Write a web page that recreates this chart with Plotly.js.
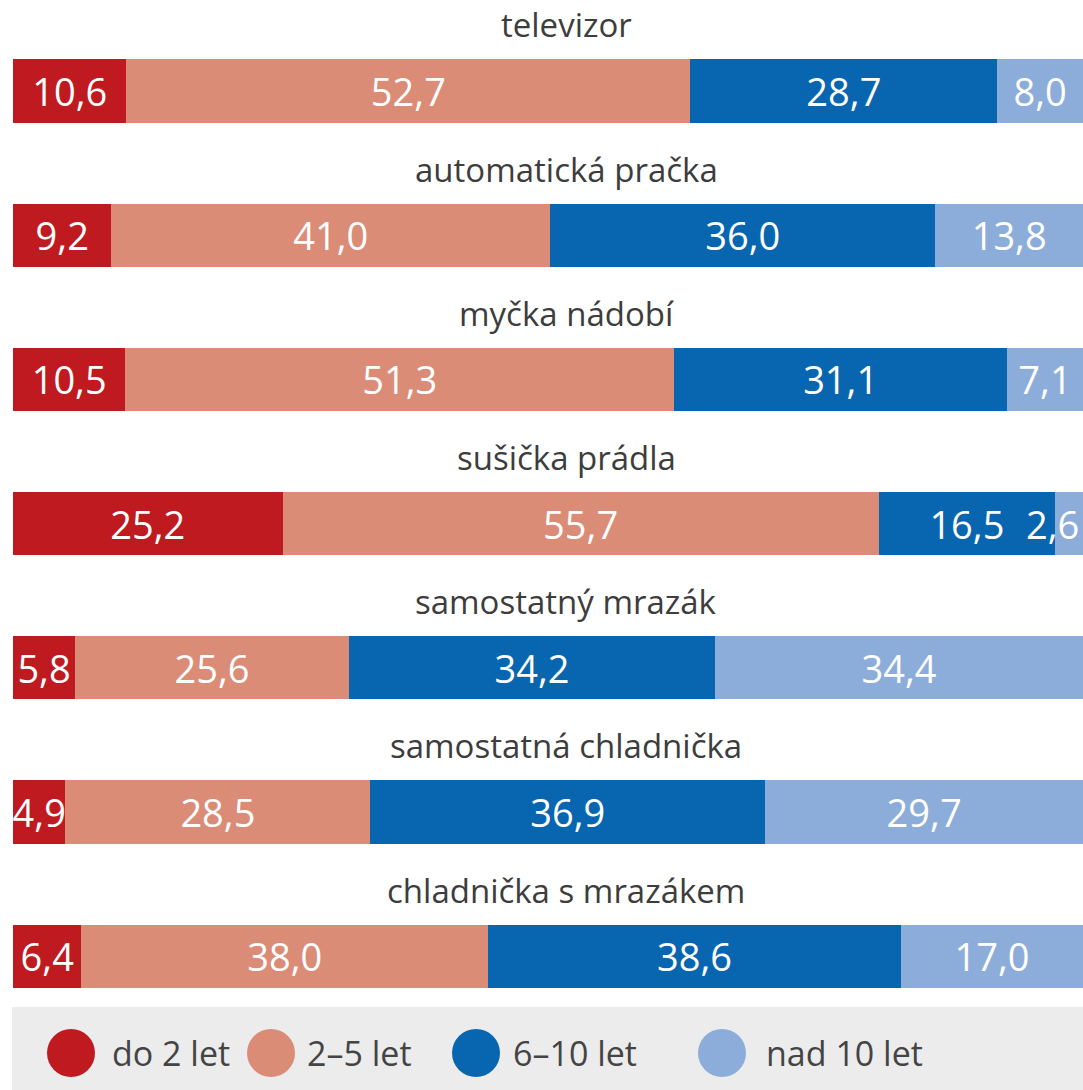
<!DOCTYPE html>
<html>
<head>
<meta charset="utf-8">
<script src="https://cdn.plot.ly/plotly-3.0.1.min.js"></script>
<style>
  html, body { margin: 0; padding: 0; background: #ffffff; }
  #chart { width: 1083px; height: 1090px; }
</style>
</head>
<body>
<div id="chart"></div>
<script>
// spotřebiče (shora dolů)
const appliances = [
    'televizor',
    'automatická pračka',
    'myčka nádobí',
    'sušička prádla',
    'samostatný mrazák',
    'samostatná chladnička',
    'chladnička s mrazákem'
];

// stáří spotřebiče, %
const seriesNames = ['do 2 let', '2–5 let', '6–10 let', 'nad 10 let'];
const upTo2 = [10.6, 9.2, 10.5, 25.2, 5.8, 4.9, 6.4];
const from2to5 = [52.7, 41.0, 51.3, 55.7, 25.6, 28.5, 38.0];
const from6to10 = [28.7, 36.0, 31.1, 16.5, 34.2, 36.9, 38.6];
const over10 = [8.0, 13.8, 7.1, 2.6, 34.4, 29.7, 17.0];

const colors = ['#bf1a1f', '#db8c77', '#0866b0', '#8cadda'];
const FONT = 'Open Sans, DejaVu Sans, sans-serif';
const LABEL_SIZE = 38;

const fmt = v => v.toFixed(1).replace('.', ',');
const allSeries = [upTo2, from2to5, from6to10, over10];
const last = allSeries.length - 1;

// a label too wide for its (last) segment is drawn right-aligned at the bar end
const tooSmall = v => v < 4;

const traces = allSeries.map((vals, i) => ({
    type: 'bar',
    orientation: 'h',
    name: seriesNames[i],
    x: vals,
    y: appliances,
    width: 0.437,
    marker: { color: colors[i], line: { width: 0 } },
    text: vals.map(v => (i === last && tooSmall(v)) ? '' : fmt(v)),
    textposition: 'inside',
    insidetextanchor: 'middle',
    textangle: 0,
    constraintext: 'none',
    cliponaxis: false,
    textfont: { family: FONT, size: LABEL_SIZE, color: '#ffffff' },
    hoverinfo: 'skip',
    showlegend: false
}));

// category titles above every bar
const annotations = appliances.map(name => ({
    x: 51.7,
    y: name,
    xref: 'x',
    yref: 'y',
    text: name,
    showarrow: false,
    yshift: 66,
    font: { family: FONT, size: 33, color: '#3d3d3d' }
}));

over10.forEach((v, k) => {
    if (!tooSmall(v)) return;
    const total = allSeries.reduce((s, arr) => s + arr[k], 0);
    annotations.push({
        x: total,
        y: appliances[k],
        xref: 'x',
        yref: 'y',
        xanchor: 'right',
        xshift: -2,
        text: fmt(v),
        showarrow: false,
        font: { family: FONT, size: LABEL_SIZE, color: '#ffffff' }
    });
});

// legend drawn by hand (large circles)
const legendX = [71, 271, 476, 722];
const legendTextX = [110, 305, 511, 764];
const legendY = 1053;
const plotLeft = 13, plotWidth = 1070, plotTop = 0, plotHeight = 1028;
const px2paperX = px => (px - plotLeft) / plotWidth;
const px2paperY = py => (plotTop + plotHeight - py) / plotHeight;

const shapes = [{
    type: 'rect',
    xref: 'paper', yref: 'paper',
    x0: px2paperX(12), x1: px2paperX(1083),
    y0: px2paperY(1090), y1: px2paperY(1007),
    fillcolor: '#ececec',
    line: { width: 0 },
    layer: 'below'
}];

seriesNames.forEach((name, i) => {
    shapes.push({
        type: 'circle',
        xref: 'paper', yref: 'paper',
        xsizemode: 'pixel', ysizemode: 'pixel',
        xanchor: px2paperX(legendX[i]),
        yanchor: px2paperY(legendY),
        x0: -24, x1: 24, y0: -24, y1: 24,
        fillcolor: colors[i],
        line: { width: 0 }
    });
    annotations.push({
        xref: 'paper', yref: 'paper',
        x: px2paperX(legendTextX[i]),
        y: px2paperY(legendY),
        xanchor: 'left',
        yanchor: 'middle',
        text: name,
        showarrow: false,
        font: { family: FONT, size: 34, color: '#444444' }
    });
});

const layout = {
    width: 1083,
    height: 1090,
    margin: { l: plotLeft, r: 0, t: plotTop, b: 1090 - plotHeight - plotTop },
    barmode: 'stack',
    paper_bgcolor: '#ffffff',
    plot_bgcolor: '#ffffff',
    showlegend: false,
    xaxis: {
        range: [0, 100],
        visible: false,
        fixedrange: true
    },
    yaxis: {
        type: 'category',
        range: [6.498, -0.631],
        visible: false,
        fixedrange: true
    },
    annotations: annotations,
    shapes: shapes,
    font: { family: FONT }
};

Plotly.newPlot('chart', traces, layout, { displayModeBar: false, responsive: false, staticPlot: true });
</script>
</body>
</html>
